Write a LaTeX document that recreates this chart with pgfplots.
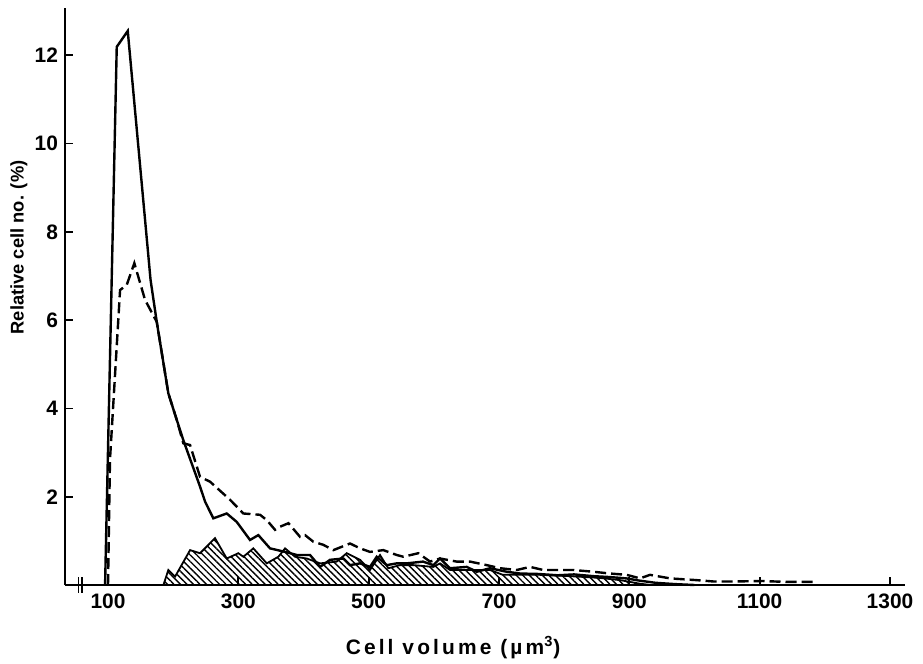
\documentclass[border=0pt]{standalone}
\usepackage{fontspec}
\setmainfont{Liberation Sans}
\usepackage{pgfplots}
\pgfplotsset{compat=1.18}
\usetikzlibrary{patterns.meta}
\begin{document}
\begin{tikzpicture}
\useasboundingbox (0,0) rectangle (461.5bp,332bp);
\begin{axis}[
  at={(32.5bp,39.5bp)}, anchor=south west,
  scale only axis, width=420bp, height=288.5bp,
  xmin=34, xmax=1323, ymin=0, ymax=13.07,
  axis x line=bottom, axis y line=left,
  axis line style={line width=1bp, -},
  xtick={100,300,500,700,900,1100,1300},
  ytick={2,4,6,8,10,12},
  tick align=inside, major tick length=4bp,
  tick style={line width=0.9bp, black},
  /pgf/number format/1000 sep={},
  /pgf/number format/assume math mode=true,
  ticklabel style={font=\bfseries\fontsize{10.5}{12}\selectfont},
  xticklabel style={yshift=-1bp},
  xlabel={\addfontfeature{LetterSpace=15}Cell volume (µm\textsuperscript{3})},
  xlabel style={font=\bfseries\fontsize{10.5}{12}\selectfont, at={(axis description cs:0.462,0)}, anchor=center, yshift=-31.5bp},
  ylabel={Relative cell no. (\%)},
  ylabel style={font=\bfseries\fontsize{9.2}{12}\selectfont, at={(axis description cs:0,0.585)}, anchor=center, yshift=23bp},
  clip=false,
]
% hatched distribution
\addplot[draw=black, line width=0.9bp, pattern={Lines[angle=-45,distance=2.3bp,line width=0.7bp]}] coordinates {
(185,0) (192.6,0.34) (202.9,0.19) (225.9,0.79) (241.2,0.72) (264.2,1.06)
(282.2,0.60) (300,0.72) (307.7,0.64) (323,0.83) (343.6,0.49) (361.4,0.64)
(371.7,0.83) (387,0.64) (405,0.60) (425.4,0.49) (451,0.53) (466.3,0.72)
(486.8,0.57) (502,0.34) (517.4,0.68) (530.1,0.38) (548,0.45) (568.6,0.45)
(599.2,0.41) (609.5,0.49) (624.8,0.34) (686.2,0.34) (706,0.23) (727.2,0.23)
(763,0.23) (809,0.20) (855,0.16) (886,0.11) (916,0.03) (932,0)
} \closedcycle;
% dashed distribution
\addplot[black, line width=1.2bp, dash pattern=on 5.5bp off 2.5bp] coordinates {
(100,0) (103,2.83) (118.5,6.68) (128.8,6.8) (140.4,7.29) (156.8,6.46)
(174.8,5.96) (192.6,4.34) (205.5,3.74) (215.6,3.21) (225.9,3.17) (241.2,2.45)
(256.6,2.34) (287.3,1.93) (307.7,1.62) (333.3,1.59) (343.6,1.47) (356.3,1.25)
(364,1.32) (376.9,1.40) (394.7,1.09) (402.4,1.13) (415.1,0.98) (430.4,0.91)
(445.8,0.79) (471.4,0.94) (486.8,0.83) (502,0.75) (522.5,0.79) (543,0.68)
(553.2,0.64) (576.2,0.72) (594.2,0.53) (609.5,0.60) (635.1,0.53) (655.5,0.53)
(681.2,0.45) (701.6,0.38) (727.2,0.34) (747.6,0.41) (768,0.34) (793.6,0.34)
(814,0.34) (844.7,0.30) (870.3,0.26) (896,0.23) (916.4,0.15) (931.7,0.23)
(962.4,0.15) (1003.4,0.11) (1028.8,0.08) (1060,0.08) (1105,0.09) (1140,0.07) (1182,0.07)
};
% solid distribution
\addplot[black, line width=1.2bp] coordinates {
(95.5,0) (113.4,12.19) (130.3,12.55) (165.3,6.91) (174.8,5.96) (192.6,4.34)
(205.5,3.74) (215.6,3.28) (241.2,2.23) (248.9,1.89) (261.6,1.51) (282.2,1.62)
(297.5,1.43) (317.9,1.02) (330.7,1.13) (348.6,0.83) (371.7,0.75) (389.6,0.68)
(410,0.68) (425.4,0.41) (440.7,0.57) (461.1,0.60) (471.4,0.45) (486.8,0.49)
(502,0.41) (512.4,0.64) (527.7,0.45) (543,0.49) (558.4,0.49) (583.4,0.53)
(599.2,0.45) (609.5,0.60) (624.8,0.38) (650.5,0.41) (665.8,0.30) (686.2,0.38)
(711.8,0.30) (732.3,0.26) (760,0.25) (790,0.22) (815,0.24) (845,0.20)
(870,0.18) (895,0.15) (915,0.10) (940,0.05) (970,0.02) (1000,0)
};
% axis break mark
\draw[line width=0.8bp] (axis cs:55,-0.17) -- (axis cs:55,0.17);
\draw[line width=0.8bp] (axis cs:60,-0.17) -- (axis cs:60,0.17);
\end{axis}
\end{tikzpicture}
\end{document}
